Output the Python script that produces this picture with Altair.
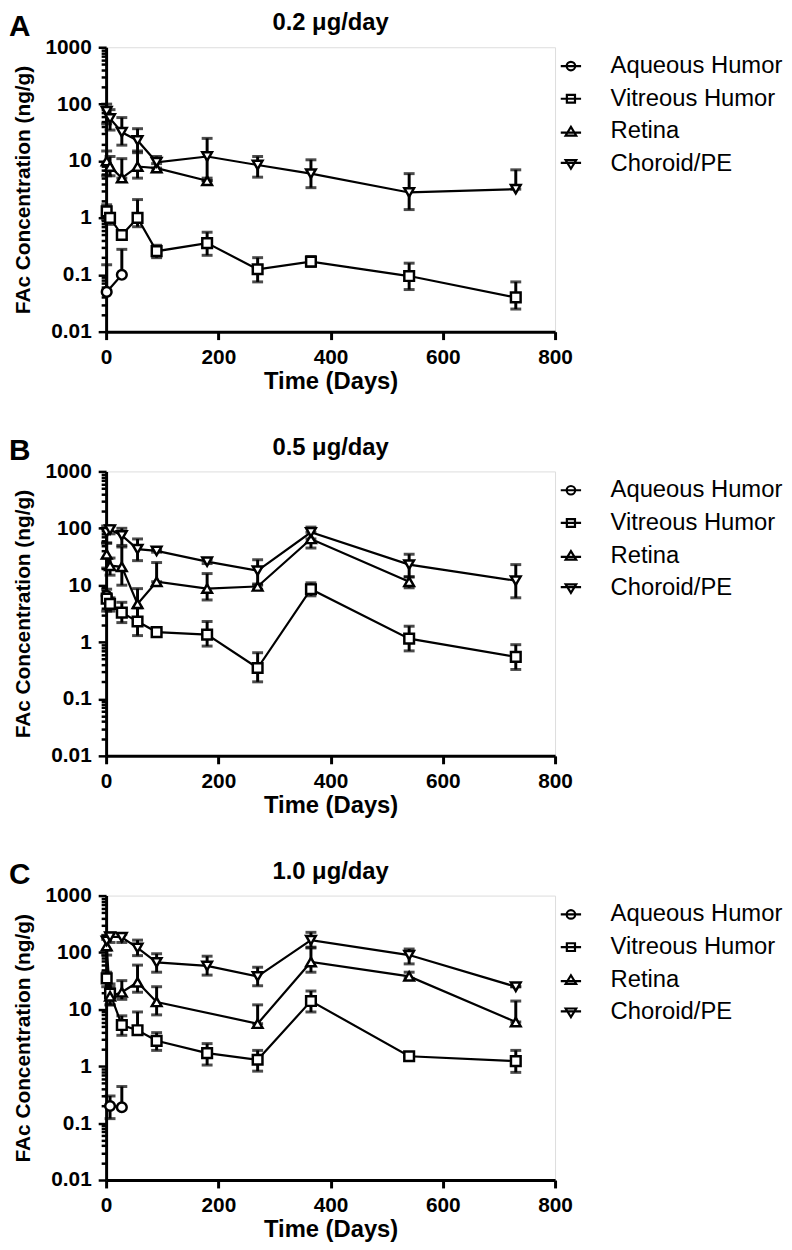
import altair as alt
import pandas as pd

FONT = "Liberation Sans"
SERIES = ["Aqueous Humor", "Vitreous Humor", "Retina", "Choroid/PE"]
ALL_DAYS = [1, 7, 28, 56, 90, 180, 270, 365, 540, 730]

# ---------------- Panel A : 0.2 ug/day ----------------
a_aq_days = [1, 28]
a_aq_val = [0.05, 0.1]
a_aq_lo = [0.05, 0.1]
a_aq_hi = [0.15, 0.28]

a_vh_days = ALL_DAYS
a_vh_val = [1.3, 1.0, 0.5, 1.0, 0.26, 0.36, 0.125, 0.17, 0.095, 0.04]
a_vh_lo = [0.93, 0.77, 0.42, 0.7, 0.2, 0.22, 0.075, 0.14, 0.055, 0.025]
a_vh_hi = [1.7, 1.2, 0.6, 2.1, 0.33, 0.56, 0.2, 0.21, 0.16, 0.075]

a_re_days = [1, 7, 28, 56, 90, 180]
a_re_val = [10, 8, 5, 8, 7.5, 4.5]
a_re_lo = [5.5, 5.5, 5, 5, 6.5, 4.5]
a_re_hi = [15, 12, 11, 15, 9, 4.5]

a_ch_days = ALL_DAYS
a_ch_val = [75, 56, 32, 23, 9.5, 12, 8.5, 6, 2.8, 3.2]
a_ch_lo = [45, 35, 19, 14, 7.5, 5, 5.2, 3.4, 1.4, 3.2]
a_ch_hi = [100, 80, 58, 37, 12, 25, 12, 10.5, 6, 7]

# ---------------- Panel B : 0.5 ug/day ----------------
b_aq_days = [1, 7]
b_aq_val = [6.5, 5.0]
b_aq_lo = [6.5, 5.0]
b_aq_hi = [6.5, 5.0]

b_vh_days = ALL_DAYS
b_vh_val = [5.8, 4.7, 3.3, 2.3, 1.5, 1.35, 0.35, 8.5, 1.15, 0.55]
b_vh_lo = [3.5, 3.5, 2.2, 1.3, 1.4, 0.85, 0.2, 6.5, 0.7, 0.33]
b_vh_hi = [8.5, 6, 5, 4, 1.6, 2.3, 0.65, 11, 1.9, 0.9]

b_re_days = [1, 7, 28, 56, 90, 180, 270, 365, 540]
b_re_val = [35, 22, 21, 4.7, 11.5, 8.7, 9.5, 65, 11.5]
b_re_lo = [20, 15, 10, 2.3, 11.5, 5.5, 8.5, 45, 9]
b_re_hi = [55, 30, 47, 8.7, 25, 16, 10.5, 85, 14]

b_ch_days = ALL_DAYS
b_ch_val = [85, 95, 75, 43, 40, 26, 18, 85, 23, 12]
b_ch_lo = [55, 80, 50, 27, 38, 24, 10, 65, 14, 6]
b_ch_hi = [110, 110, 100, 65, 42, 28, 28, 105, 35, 23]

# ---------------- Panel C : 1.0 ug/day ----------------
c_aq_days = [7, 28]
c_aq_val = [0.2, 0.19]
c_aq_lo = [0.12, 0.19]
c_aq_hi = [0.3, 0.44]

c_vh_days = ALL_DAYS
c_vh_val = [35, 19, 5.3, 4.3, 2.8, 1.7, 1.3, 14, 1.5, 1.23]
c_vh_lo = [25, 12, 3.5, 4.0, 1.9, 1.05, 0.82, 9, 1.5, 0.78]
c_vh_hi = [45, 28, 7.7, 9, 3.9, 2.5, 1.9, 21, 1.5, 1.9]

c_re_days = [1, 7, 28, 56, 90, 270, 365, 540, 730]
c_re_val = [130, 17, 20, 30, 13.5, 5.6, 68, 38, 6]
c_re_lo = [90, 12, 15, 20, 8, 5.6, 45, 35, 6]
c_re_hi = [170, 25, 32, 60, 25, 12, 120, 45, 14]

c_ch_days = ALL_DAYS
c_ch_val = [160, 190, 185, 120, 67, 58, 38, 165, 90, 25]
c_ch_lo = [110, 150, 150, 88, 45, 40, 26, 124, 63, 25]
c_ch_hi = [200, 220, 210, 165, 95, 86, 55, 226, 115, 25]

PANELS = [
    ("A", "0.2 \u03bcg/day", [
        (a_aq_days, a_aq_val, a_aq_lo, a_aq_hi),
        (a_vh_days, a_vh_val, a_vh_lo, a_vh_hi),
        (a_re_days, a_re_val, a_re_lo, a_re_hi),
        (a_ch_days, a_ch_val, a_ch_lo, a_ch_hi)]),
    ("B", "0.5 \u03bcg/day", [
        (b_aq_days, b_aq_val, b_aq_lo, b_aq_hi),
        (b_vh_days, b_vh_val, b_vh_lo, b_vh_hi),
        (b_re_days, b_re_val, b_re_lo, b_re_hi),
        (b_ch_days, b_ch_val, b_ch_lo, b_ch_hi)]),
    ("C", "1.0 \u03bcg/day", [
        (c_aq_days, c_aq_val, c_aq_lo, c_aq_hi),
        (c_vh_days, c_vh_val, c_vh_lo, c_vh_hi),
        (c_re_days, c_re_val, c_re_lo, c_re_hi),
        (c_ch_days, c_ch_val, c_ch_lo, c_ch_hi)]),
]

Y_TICKS = [round(k * d, 6) for d in [0.01, 0.1, 1, 10, 100] for k in range(1, 10)] + [1000]
X_TICKS = [0, 200, 400, 600, 800]

POINT_SHAPES = ["circle", "square", "triangle-up", "triangle-down"]
LEGEND_SHAPES = [
    "M-1,0H1M-0.42,0A0.42,0.42 0 1,1 0.42,0A0.42,0.42 0 1,1 -0.42,0Z",
    "M-1,0H1M-0.4,-0.38H0.4V0.38H-0.4Z",
    "M-1,0.12H1M0,-0.45L0.52,0.4H-0.52Z",
    "M-1,-0.12H1M-0.52,-0.4H0.52L0,0.45Z",
]

W, H = 453, 287
is_decade = "indexof([0.01,0.1,1,10,100,1000], datum.value) >= 0"


def make_panel(letter, title, groups):
    rows = []
    for name, (d, v, lo, hi) in zip(SERIES, groups):
        for i in range(len(d)):
            rows.append({"series": name, "day": d[i], "val": v[i], "lo": lo[i], "hi": hi[i]})
    df = pd.DataFrame(rows)

    xscale = alt.Scale(domain=[0, 800], nice=False, zero=False, padding=0)
    xenc = alt.X("day:Q", scale=xscale,
                 axis=alt.Axis(values=X_TICKS, title="Time (Days)", format="d",
                               labelFlush=False,
                               labelFont=FONT, labelFontSize=21, labelFontWeight="bold",
                               labelColor="black", labelPadding=7,
                               titleFont=FONT, titleFontSize=24, titleFontWeight="bold",
                               titleColor="black", titlePadding=2,
                               tickSize=8, tickWidth=3, tickColor="black",
                               domainWidth=3, domainColor="black", grid=False))
    yscale = alt.Scale(type="log", domain=[0.01, 1000], nice=False, padding=0)
    yenc = alt.Y("val:Q", scale=yscale,
                 axis=alt.Axis(values=Y_TICKS,
                               labelExpr=is_decade + " ? format(datum.value, '~g') : ''",
                               labelFlush=False,
                               title="FAc Concentration  (ng/g)",
                               labelFont=FONT, labelFontSize=21, labelFontWeight="bold",
                               labelColor="black", labelPadding=7,
                               titleFont=FONT, titleFontSize=21, titleFontWeight="bold",
                               titleColor="black", titlePadding=12,
                               tickSize={"condition": {"test": is_decade, "value": 8}, "value": 5},
                               tickWidth=2.5, tickColor="black",
                               domainWidth=3, domainColor="black", grid=False))

    xq = alt.X("day:Q", scale=xscale)
    base = alt.Chart(df)
    lines = base.mark_line(color="black", strokeWidth=2.2).encode(
        x=xenc, y=yenc, detail="series:N", order="day:Q")
    bars = base.mark_rule(color="black", strokeWidth=3).encode(
        x=xq, y=alt.Y("lo:Q", scale=yscale), y2="hi:Q")
    cap_hi = base.mark_tick(color="black", thickness=3, size=11, orient="horizontal").encode(
        x=xq, y=alt.Y("hi:Q", scale=yscale))
    cap_lo = base.mark_tick(color="black", thickness=3, size=11, orient="horizontal").encode(
        x=xq, y=alt.Y("lo:Q", scale=yscale))
    points = base.mark_point(filled=True, fill="white", stroke="black", strokeWidth=2.5,
                             size=95, opacity=1).encode(
        x=xq, y=alt.Y("val:Q", scale=yscale),
        shape=alt.Shape("series:N", scale=alt.Scale(domain=SERIES, range=POINT_SHAPES), legend=None))
    legend_layer = base.mark_point(opacity=0).encode(
        x=xq, y=alt.Y("val:Q", scale=yscale),
        shape=alt.Shape("series:N", scale=alt.Scale(domain=SERIES, range=LEGEND_SHAPES),
                        legend=alt.Legend(title=None, orient="none", legendX=W + 4, legendY=7,
                                          padding=0,
                                          symbolSize=420, symbolStrokeWidth=2.2,
                                          symbolStrokeColor="black", symbolFillColor="white",
                                          symbolOpacity=1,
                                          labelFont=FONT, labelFontSize=24, labelColor="black",
                                          labelOffset=28, rowPadding=9, labelLimit=300)))
    letter_mark = alt.Chart(pd.DataFrame({"t": [letter]})).mark_text(
        font=FONT, fontSize=30, fontWeight="bold", align="left", baseline="top",
        color="black").encode(text="t:N", x=alt.value(-98), y=alt.value(-35.5))
    title_mark = alt.Chart(pd.DataFrame({"t": [title]})).mark_text(
        font=FONT, fontSize=24, fontWeight="bold", align="center", baseline="top",
        color="black").encode(text="t:N", x=alt.value(W / 2), y=alt.value(-36))

    return alt.layer(lines, bars, cap_hi, cap_lo, points, legend_layer,
                     letter_mark, title_mark).resolve_scale(
        shape="independent").properties(width=W, height=H)


panels = [make_panel(l, t, g) for l, t, g in PANELS]
chart = alt.vconcat(*panels, spacing=41,
                    padding={"top": -3, "left": 0, "right": 0, "bottom": 0}).resolve_scale(
    shape="independent").resolve_legend(shape="independent").configure_view(
    strokeWidth=0, stroke="transparent").configure(background="white")

chart.save("out.html", embed_options={"renderer": "svg", "actions": False})
